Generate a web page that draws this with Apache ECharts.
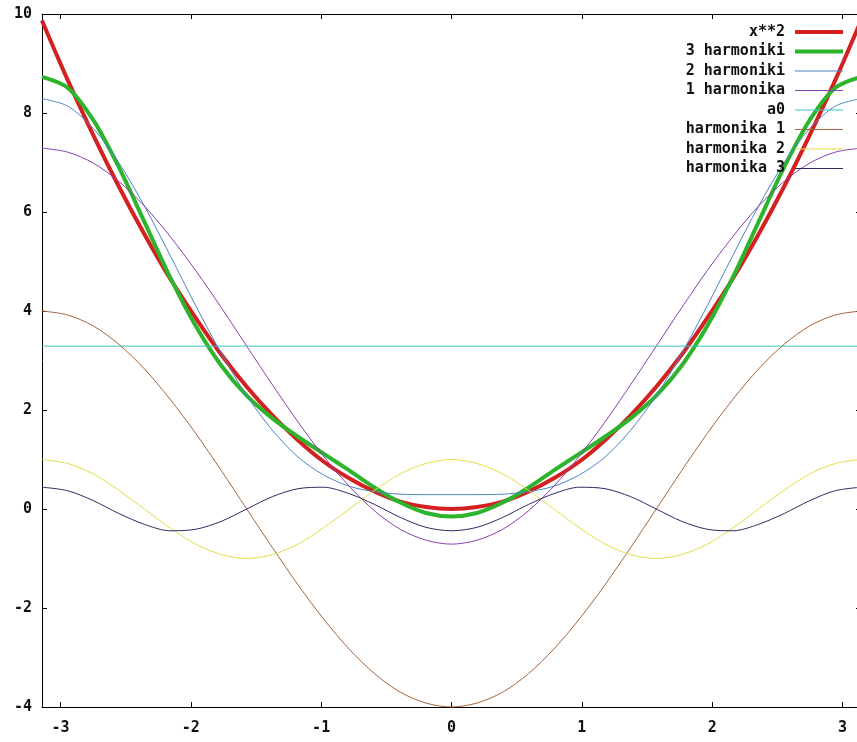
<!DOCTYPE html>
<html>
<head>
<meta charset="utf-8">
<script src="https://cdn.jsdelivr.net/npm/echarts@6/dist/echarts.min.js"></script>
<style>
  html, body { margin: 0; padding: 0; background: #fff; overflow: hidden; }
  #chart { width: 861px; height: 742px; }
</style>
</head>
<body>
<div id="chart"></div>
<script>
// x samples, -pi .. pi
var xs = [-3.142, -2.945, -2.749, -2.553, -2.356, -2.160, -1.963, -1.767, -1.571, -1.374, -1.178, -0.982, -0.785, -0.589, -0.393, -0.196, 0,
  0.196, 0.393, 0.589, 0.785, 0.982, 1.178, 1.374, 1.571, 1.767, 1.963, 2.160, 2.356, 2.553, 2.749, 2.945, 3.142];

var xSquared = [9.87, 8.67, 7.56, 6.52, 5.55, 4.66, 3.86, 3.12, 2.47, 1.89, 1.39, 0.96, 0.62, 0.35, 0.15, 0.04, 0,
  0.04, 0.15, 0.35, 0.62, 0.96, 1.39, 1.89, 2.47, 3.12, 3.86, 4.66, 5.55, 6.52, 7.56, 8.67, 9.87];
var sum3 = [8.73, 8.51, 7.86, 6.91, 5.80, 4.69, 3.70, 2.90, 2.29, 1.83, 1.46, 1.12, 0.78, 0.43, 0.13, -0.08, -0.15,
  -0.08, 0.13, 0.43, 0.78, 1.12, 1.46, 1.83, 2.29, 2.90, 3.70, 4.69, 5.80, 6.91, 7.86, 8.51, 8.73];
var sum2 = [8.29, 8.14, 7.69, 7.00, 6.12, 5.13, 4.11, 3.15, 2.29, 1.59, 1.05, 0.69, 0.46, 0.35, 0.30, 0.29, 0.29,
  0.29, 0.30, 0.35, 0.46, 0.69, 1.05, 1.59, 2.29, 3.15, 4.11, 5.13, 6.12, 7.00, 7.69, 8.14, 8.29];
var sum1 = [7.29, 7.21, 6.99, 6.62, 6.12, 5.51, 4.82, 4.07, 3.29, 2.51, 1.76, 1.07, 0.46, -0.04, -0.41, -0.63, -0.71,
  -0.63, -0.41, -0.04, 0.46, 1.07, 1.76, 2.51, 3.29, 4.07, 4.82, 5.51, 6.12, 6.62, 6.99, 7.21, 7.29];
var a0X = [-3.142, 3.142];
var a0 = [3.29, 3.29];
var harm1 = [4.00, 3.92, 3.70, 3.33, 2.83, 2.22, 1.53, 0.78, 0, -0.78, -1.53, -2.22, -2.83, -3.33, -3.70, -3.92, -4.00,
  -3.92, -3.70, -3.33, -2.83, -2.22, -1.53, -0.78, 0, 0.78, 1.53, 2.22, 2.83, 3.33, 3.70, 3.92, 4.00];
var harm2 = [1.00, 0.92, 0.71, 0.38, 0, -0.38, -0.71, -0.92, -1.00, -0.92, -0.71, -0.38, 0, 0.38, 0.71, 0.92, 1.00,
  0.92, 0.71, 0.38, 0, -0.38, -0.71, -0.92, -1.00, -0.92, -0.71, -0.38, 0, 0.38, 0.71, 0.92, 1.00];
var harm3 = [0.44, 0.37, 0.17, -0.09, -0.31, -0.44, -0.41, -0.25, 0, 0.25, 0.41, 0.44, 0.31, 0.09, -0.17, -0.37, -0.44,
  -0.37, -0.17, 0.09, 0.31, 0.44, 0.41, 0.25, 0, -0.25, -0.41, -0.44, -0.31, -0.09, 0.17, 0.37, 0.44];

var xTicks = [-3, -2, -1, 0, 1, 2, 3];

var font = 'DejaVu Sans Mono';
var thickIcon = 'path://M0,0H48V4H0Z';
var thinIcon = 'path://M0,0H48V1H0Z';

function pairs(xv, yv) {
  return yv.map(function (y, i) { return [xv[i], y]; });
}

function line(name, xv, yv, color, width) {
  return {
    name: name,
    type: 'line',
    data: pairs(xv, yv),
    symbol: 'none',
    smooth: 0.3,
    animation: false,
    color: color,
    lineStyle: { color: color, width: width }
  };
}

var series = [
  line('x**2', xs, xSquared, '#d42020', 4),
  line('3 harmoniki', xs, sum3, '#2db42d', 4),
  line('2 harmoniki', xs, sum2, '#4a86c4', 1),
  line('1 harmonika', xs, sum1, '#8a3fb0', 1),
  line('a0', a0X, a0, '#3cc4c8', 1),
  line('harmonika 1', xs, harm1, '#a4643c', 1),
  line('harmonika 2', xs, harm2, '#e4dc48', 1),
  line('harmonika 3', xs, harm3, '#2c2c64', 1)
];

var chart = echarts.init(document.getElementById('chart'));

var option = {
  backgroundColor: '#ffffff',
  animation: false,
  grid: { left: 42, top: 14, right: 0, bottom: 35 },
  legend: {
    orient: 'vertical',
    right: 18,
    top: 24.5,
    padding: 0,
    align: 'right',
    itemWidth: 48,
    itemHeight: 12,
    itemGap: 4.5,
    data: series.map(function (s) {
      return { name: s.name, icon: s.lineStyle.width > 1 ? thickIcon : thinIcon };
    }),
    textStyle: { fontFamily: font, fontWeight: 'bold', fontSize: 15, lineHeight: 15, color: '#111', padding: [0, 5, 0, 0] }
  },
  xAxis: [{
    type: 'value',
    min: -3.1416,
    max: 3.1416,
    splitLine: { show: false },
    axisLine: { onZero: false, lineStyle: { color: '#000', width: 1 } },
    axisTick: { inside: true, length: 5, customValues: xTicks, lineStyle: { color: '#000' } },
    axisLabel: { customValues: xTicks, margin: 14, fontFamily: font, fontWeight: 'bold', fontSize: 15, color: '#111' }
  }, {
    type: 'value',
    position: 'top',
    min: -3.1416,
    max: 3.1416,
    splitLine: { show: false },
    axisLine: { onZero: false, lineStyle: { color: '#000', width: 1 } },
    axisTick: { inside: true, length: 5, customValues: xTicks, lineStyle: { color: '#000' } },
    axisLabel: { show: false }
  }],
  yAxis: [{
    type: 'value',
    min: -4,
    max: 10,
    interval: 2,
    splitLine: { show: false },
    axisLine: { show: true, onZero: false, lineStyle: { color: '#000', width: 1 } },
    axisTick: { inside: true, length: 5, lineStyle: { color: '#000' } },
    axisLabel: { margin: 10, fontFamily: font, fontWeight: 'bold', fontSize: 15, color: '#111' }
  }, {
    type: 'value',
    position: 'right',
    min: -4,
    max: 10,
    interval: 2,
    splitLine: { show: false },
    axisLine: { show: true, onZero: false, lineStyle: { color: '#000', width: 1 } },
    axisTick: { inside: true, length: 5, lineStyle: { color: '#000' } },
    axisLabel: { show: false }
  }],
  series: series
};

chart.setOption(option);
</script>
</body>
</html>
